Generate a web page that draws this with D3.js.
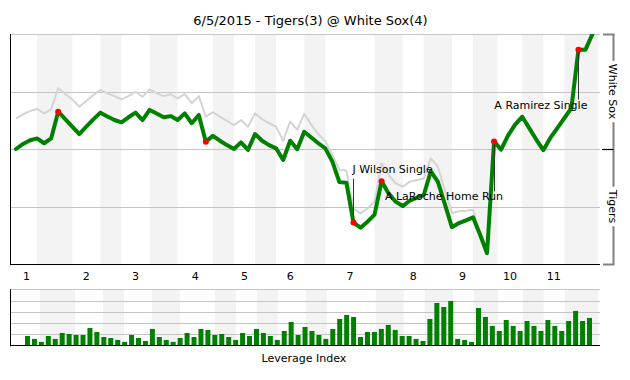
<!DOCTYPE html>
<html><head><meta charset="utf-8">
<script src="https://cdn.jsdelivr.net/npm/d3@7"></script>
<style>html,body{margin:0;padding:0;background:#fff;}svg{display:block;font-family:"DejaVu Sans",sans-serif;}</style>
</head><body>
<script>
const title = "6/5/2015 - Tigers(3) @ White Sox(4)";
const homeTeam = "White Sox", awayTeam = "Tigers";
// Home (White Sox) win probability after each event, %
const winProb = [50,52.2,53.8,54.6,52.5,54.6,66.2,63.0,59.7,56.5,59.7,62.9,65.8,64.1,62.6,61.6,63.8,65.8,62.6,67.0,
 65.4,63.8,64.3,62.6,65.5,61.2,64.8,53.2,55.7,53.6,51.7,50.0,52.9,49.6,56.5,53.6,51.7,50.3,45.2,53.6,
 49.9,57.5,55.0,52.5,50.3,44.5,35.6,35.3,18.0,15.8,18.4,21.5,36.0,30.7,27.1,25.2,27.5,28.8,30.0,40.3,
 35.8,26.0,16.0,17.8,19.0,20.3,12.8,4.7,53.3,49.7,55.9,60.6,64.0,59.1,54.1,49.5,54.8,59.1,63.4,67.8,
 93.2,93.2,100];
// Secondary (grey) series
const refProb = [63.3,65.1,66.5,67.4,65.5,67.2,76.4,73.9,71.6,68.4,70.9,73.5,75.7,74.2,73.0,71.6,73.0,74.9,72.7,75.9,
 74.3,73.0,73.8,72.0,73.9,69.9,73.0,64.1,66.0,64.1,62.2,60.4,62.6,59.7,65.5,62.9,61.2,59.7,53.6,61.9,
 58.3,65.3,60.5,56.5,53.5,47.4,40.9,40.6,24.2,22.0,24.2,27.1,43.8,38.7,35.1,33.6,35.8,36.5,37.2,46.0,
 42.3,32.0,22.2,22.9,23.2,23.6,13.5,5.2,54.0,50.5,56.8,61.6,64.8,59.8,54.8,50.1,55.6,60.0,64.3,68.6,
 93.6,93.6,100];
// Leverage index per event
const leverage = [0.83,0.57,0.30,0.83,0.57,1.10,1.01,0.92,0.92,1.55,1.19,0.74,0.65,0.48,0.30,0.92,0.65,0.39,1.46,0.74,
 0.48,0.30,0.65,1.10,0.74,1.46,1.37,0.92,1.01,0.74,0.48,1.10,0.83,1.46,1.10,0.83,0.48,1.28,2.08,0.92,
 1.64,1.28,0.92,0.57,1.46,2.35,2.71,2.53,0.74,1.19,1.19,1.46,1.82,1.37,0.83,0.83,0.57,0.39,2.35,3.78,
 3.42,3.96,0.57,0.48,0.30,3.33,2.53,1.73,1.28,2.26,1.73,1.28,2.17,1.73,1.28,2.26,1.73,1.28,2.17,3.07,
 2.17,2.44];
// Event index at which each half-inning starts (top 1, bottom 1, top 2, ...)
const halfStarts = [0,3,8,12,15,19,23,28,31,34,37,41,44,51,55,58,62,65,68.5,72,75,78];
const lastEvent = 82.8;
const innings = ["1","2","3","4","5","6","7","8","9","10","11"];
const scoringPlays = [6,27,48,52,68,80];
const annotations = [
  {k:48, text:"J Wilson Single", pos:"above"},
  {k:68, text:"A LaRoche Home Run", pos:"below"},
  {k:80, text:"A Ramirez Single", pos:"below"}
];
const probTicks = [25,50,75,100];
const levTicks = [1,2,3,4,5];

const W=630,H=380;
const svg = d3.select("body").append("svg").attr("width",W).attr("height",H);
const L=10,R=600;
const x = d3.scaleLinear().domain([0,82]).range([16,592.5]);
const y = d3.scaleLinear().domain([0,100]).range([264,34]);
const xb = d3.scaleLinear().domain([0,82]).range([19,592.7]);
const yb = d3.scaleLinear().domain([0,5]).range([345.3,289.3]);
const bx = d3.scaleBand().domain(d3.range(leverage.length)).range([25,592]).paddingInner(0.28).paddingOuter(0);
const crisp = v => Math.round(v)+0.5;
const bandColor = "#f3f3f3", gridColor="#c4c4c4";

svg.append("defs").append("clipPath").attr("id","plotclip").append("rect")
  .attr("x",L).attr("y",y(100)).attr("width",R-L).attr("height",y(0)-y(100));

// half-inning extents
const halves = halfStarts.map((s,i)=>({s, e: i<halfStarts.length-1 ? halfStarts[i+1] : lastEvent, i}));
const bottoms = halves.filter(h=>h.i%2===1);

// ---- main chart ----
svg.append("text").attr("x",310.5).attr("y",25).attr("text-anchor","middle")
  .attr("font-size",13).attr("fill","#000").text(title);

svg.append("g").selectAll("rect").data(bottoms).join("rect")
  .attr("x",d=>x(d.s)).attr("width",d=>x(d.e)-x(d.s))
  .attr("y",y(100)).attr("height",y(0)-y(100)).attr("fill",bandColor);

svg.append("g").selectAll("line").data(probTicks).join("line")
  .attr("x1",L).attr("x2",R).attr("y1",d=>crisp(y(d))).attr("y2",d=>crisp(y(d)))
  .attr("stroke",gridColor).attr("stroke-width",1);

svg.append("line").attr("x1",L+0.5).attr("x2",L+0.5).attr("y1",y(100)).attr("y2",y(0)+1).attr("stroke","#000");
svg.append("line").attr("x1",L).attr("x2",R).attr("y1",crisp(y(0))).attr("y2",crisp(y(0))).attr("stroke","#000");

const line = d3.line().x((d,i)=>x(i)).y(d=>y(d));
const pg = svg.append("g").attr("clip-path","url(#plotclip)");
pg.append("path").datum(refProb).attr("d",line).attr("fill","none")
  .attr("stroke","#d4d4d4").attr("stroke-width",2).attr("stroke-linejoin","round");
pg.append("path").datum(winProb).attr("d",line).attr("fill","none")
  .attr("stroke","#008000").attr("stroke-width",4).attr("stroke-linejoin","round").attr("stroke-linecap","round");

// annotations
const ag = svg.append("g").attr("font-size",11).attr("fill","#000");
annotations.forEach(a=>{
  const px=x(a.k), py=y(winProb[a.k]);
  if(a.pos==="above"){
    ag.append("line").attr("x1",crisp(px)).attr("x2",crisp(px)).attr("y1",py).attr("y2",py-44).attr("stroke","#333");
    ag.append("text").attr("x",px-1).attr("y",py-49.5).attr("text-anchor","start").text(a.text);
  } else {
    ag.append("line").attr("x1",crisp(px)).attr("x2",crisp(px)).attr("y1",py).attr("y2",py+50).attr("stroke","#333");
    ag.append("text").attr("x",px+9).attr("y",py+59).attr("text-anchor","end").text(a.text);
  }
});
svg.append("g").selectAll("circle").data(scoringPlays).join("circle")
  .attr("cx",d=>x(d)).attr("cy",d=>y(winProb[d])).attr("r",3).attr("fill","#ff0000");

// right bracket
const bxp = 613.5, bg = svg.append("g");
const labs = [{t:homeTeam, c:(100+50)/2, a:100, b:50},{t:awayTeam, c:(50+0)/2, a:50, b:0}];
labs.forEach(l=>{
  const t = bg.append("text").attr("transform",`translate(${bxp-1.5},${y(l.c)}) rotate(90)`)
    .attr("text-anchor","middle").attr("dominant-baseline","central").attr("font-size",11).text(l.t);
  const len = t.node().getComputedTextLength();
  bg.append("line").attr("x1",bxp).attr("x2",bxp).attr("y1",y(l.a)).attr("y2",y(l.c)-len/2-3).attr("stroke","#808080").attr("stroke-width",2);
  bg.append("line").attr("x1",bxp).attr("x2",bxp).attr("y1",y(l.c)+len/2+3).attr("y2",y(l.b)).attr("stroke","#808080").attr("stroke-width",2);
});
[100,0].forEach(v=>bg.append("line").attr("x1",603).attr("x2",bxp+1).attr("y1",crisp(y(v))).attr("y2",crisp(y(v))).attr("stroke","#808080").attr("stroke-width",2));
bg.append("line").attr("x1",602).attr("x2",bxp).attr("y1",crisp(y(50))).attr("y2",crisp(y(50))).attr("stroke","#000").attr("stroke-width",1.2);

// inning labels
const tops = halves.filter(h=>h.i%2===0);
svg.append("g").selectAll("text").data(tops).join("text")
  .attr("x",d=>x((d.s+d.e)/2)).attr("y",279.5).attr("text-anchor","middle").attr("font-size",11)
  .text((d,i)=>innings[i]);

// ---- leverage chart ----
svg.append("g").selectAll("rect").data(bottoms).join("rect")
  .attr("x",d=>xb(d.s)).attr("width",d=>xb(d.e)-xb(d.s))
  .attr("y",yb(5)).attr("height",yb(0)-yb(5)).attr("fill",bandColor);
svg.append("g").selectAll("line").data(levTicks).join("line")
  .attr("x1",L).attr("x2",R).attr("y1",d=>crisp(yb(d))).attr("y2",d=>crisp(yb(d)))
  .attr("stroke",gridColor);
svg.append("g").selectAll("rect").data(leverage).join("rect")
  .attr("x",(d,i)=>bx(i)).attr("width",bx.bandwidth())
  .attr("y",d=>yb(d)).attr("height",d=>yb(0)-yb(d)).attr("fill","#008000");
svg.append("line").attr("x1",L+0.5).attr("x2",L+0.5).attr("y1",yb(5)).attr("y2",yb(0)+1).attr("stroke","#000");
svg.append("line").attr("x1",L).attr("x2",R).attr("y1",crisp(yb(0))).attr("y2",crisp(yb(0))).attr("stroke","#000");
svg.append("text").attr("x",304).attr("y",361.5).attr("text-anchor","middle").attr("font-size",11).text("Leverage Index");
</script>
</body></html>
